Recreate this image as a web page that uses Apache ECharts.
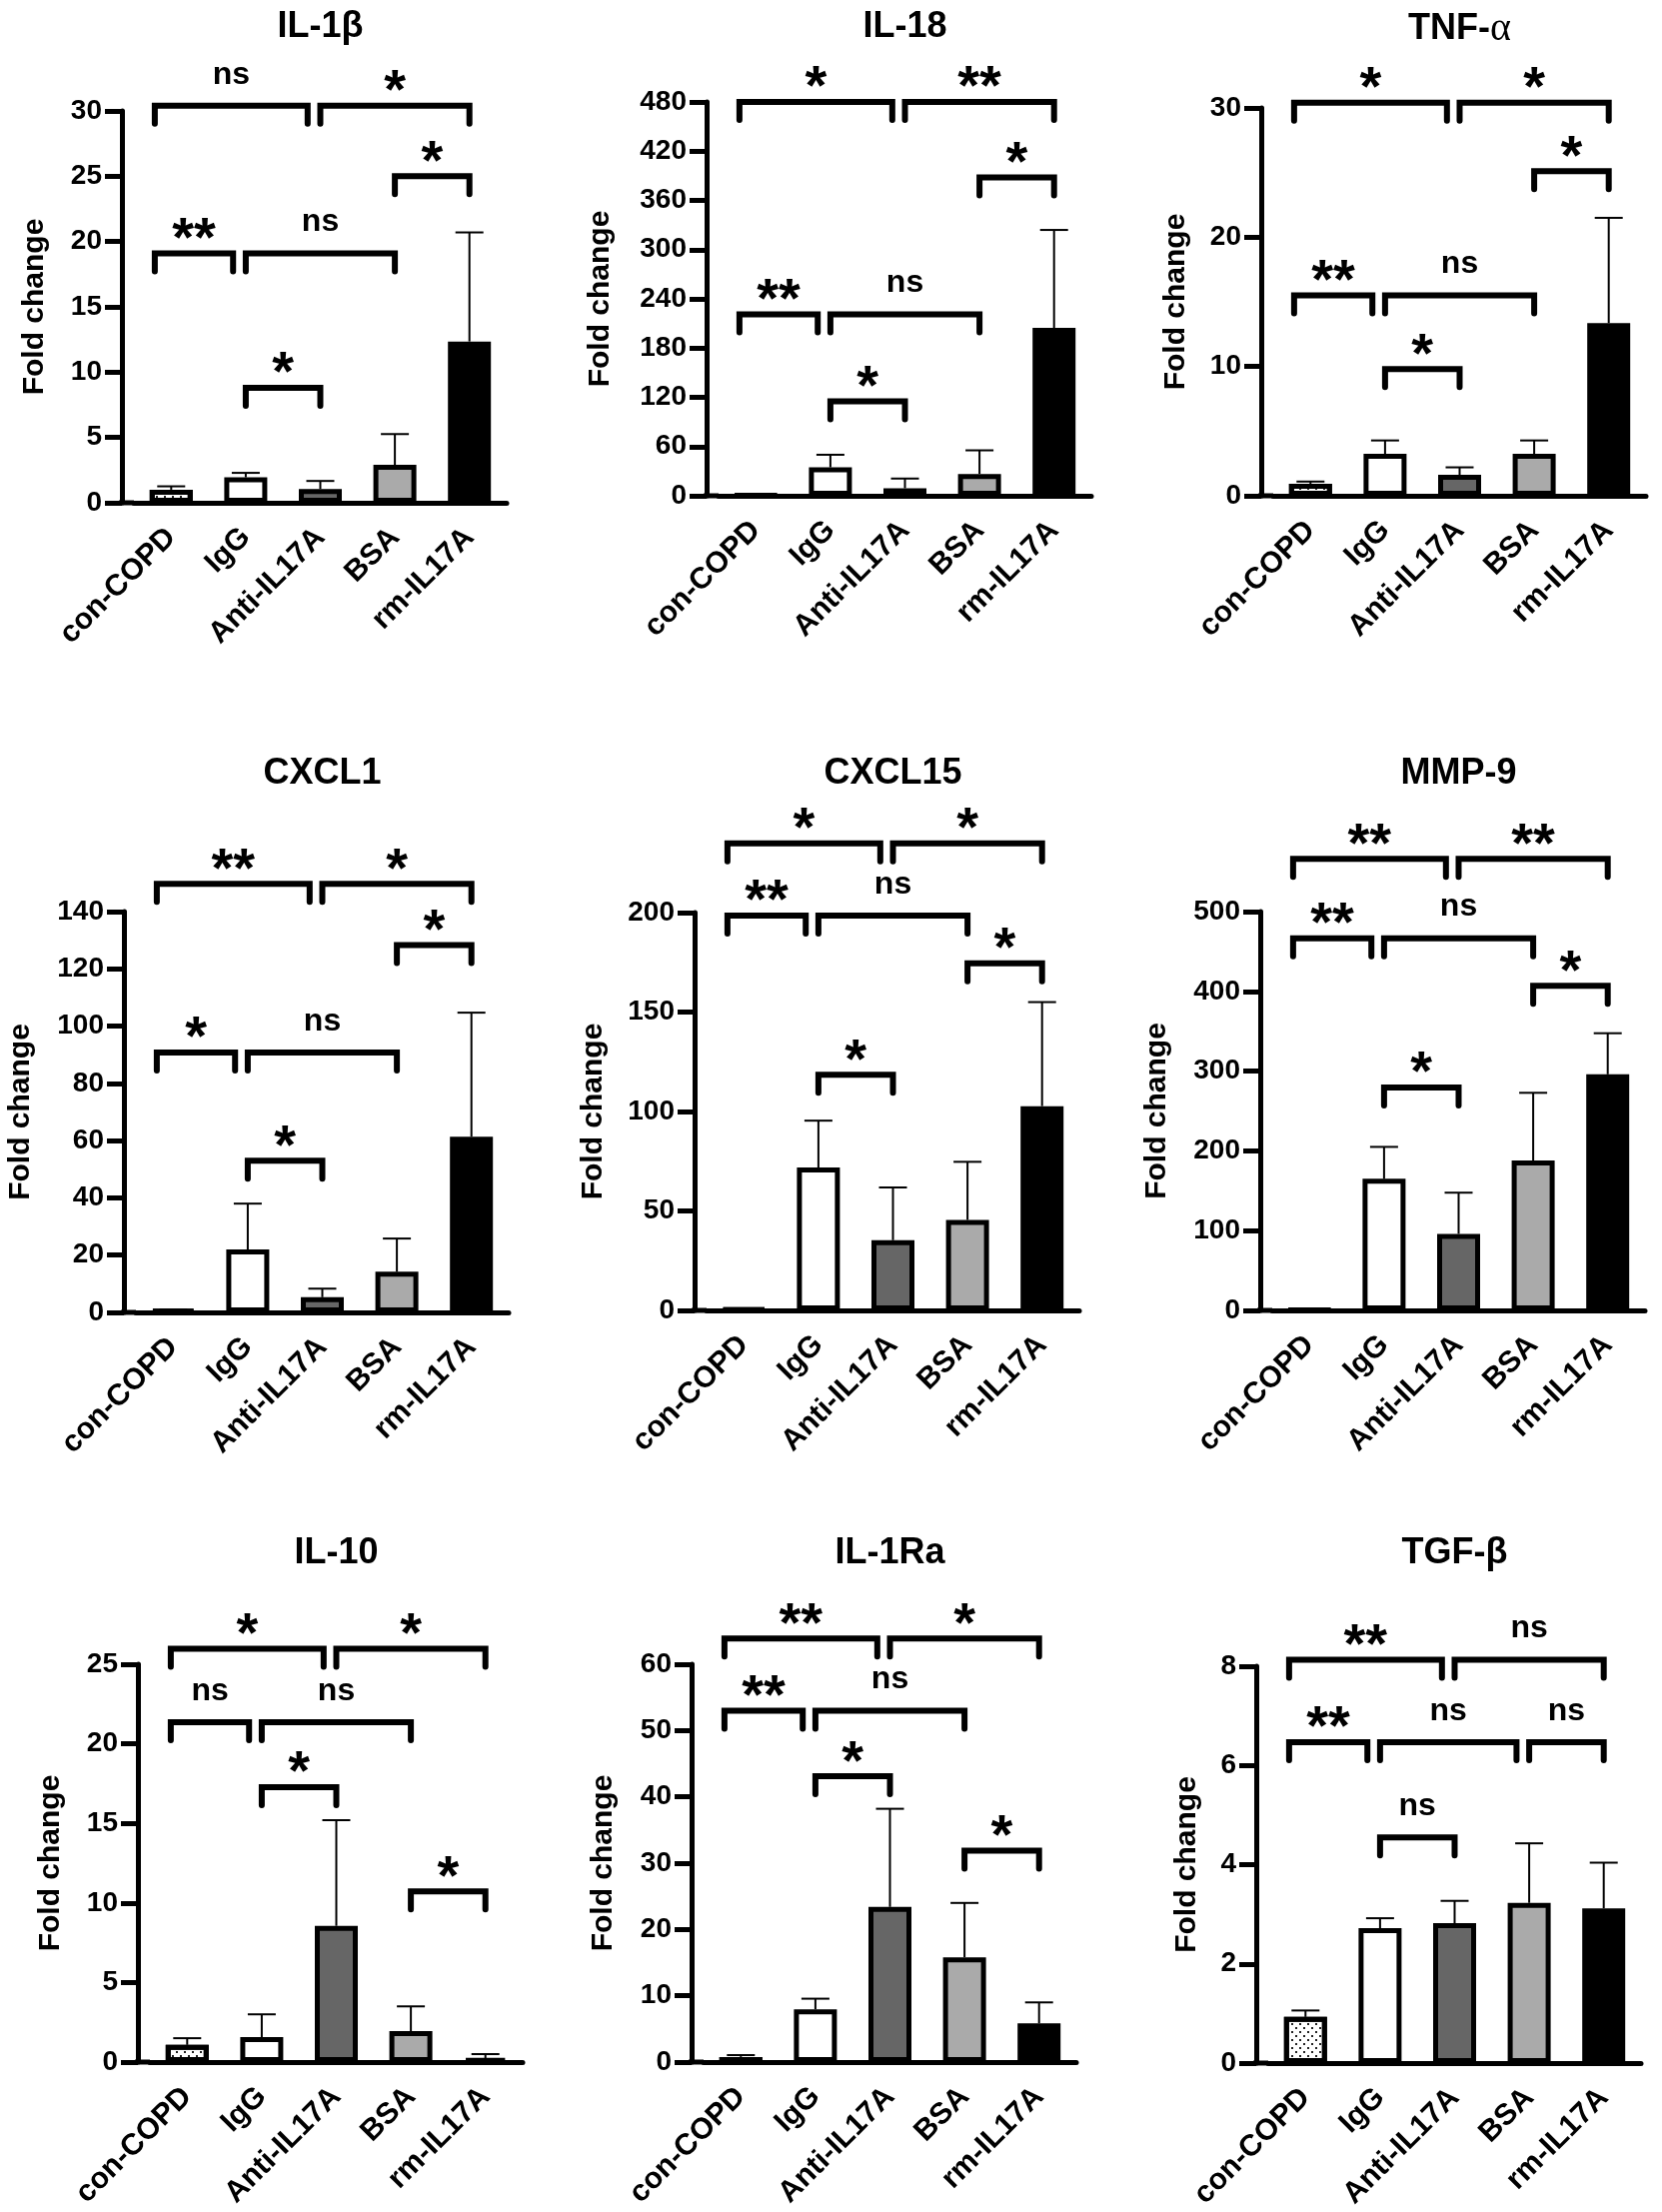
<!DOCTYPE html>
<html>
<head>
<meta charset="utf-8">
<title>Fold change</title>
<script src="https://cdn.jsdelivr.net/npm/echarts@6/dist/echarts.min.js"></script>
<style>
html, body { margin: 0; padding: 0; background: #fff; }
#main { width: 1663px; height: 2213px; }
</style>
</head>
<body>
<div id="main"></div>
<script>
// groups on the x axis
var groups = ['con-COPD', 'IgG', 'Anti-IL17A', 'BSA', 'rm-IL17A'];

// mean and upper end of error bar (mean + SD) for every panel
// significance brackets: [from group, to group, height, label]
var il1bMean = [1.0, 1.95, 1.05, 2.9, 12.35];
var il1bUpper = [1.26, 2.29, 1.67, 5.26, 20.7];
var il1bSig = [[0, 2, 30.4, 'ns'], [2, 4, 30.4, '*'], [3, 4, 25.0, '*'], [0, 1, 19.1, '**'], [1, 3, 19.1, 'ns'], [1, 2, 8.8, '*']];

var il18Mean = [1, 34.7, 9.2, 26.6, 204.7];
var il18Upper = [1.2, 50, 21, 55.4, 324];
var il18Sig = [[0, 2, 480, '*'], [2, 4, 480, '**'], [3, 4, 388, '*'], [0, 1, 221, '**'], [1, 3, 221, 'ns'], [1, 2, 115, '*']];

var tnfMean = [0.93, 3.24, 1.62, 3.24, 13.36];
var tnfUpper = [1.1, 4.28, 2.2, 4.28, 21.5];
var tnfSig = [[0, 2, 30.4, '*'], [2, 4, 30.4, '*'], [3, 4, 25.1, '*'], [0, 1, 15.5, '**'], [1, 3, 15.5, 'ns'], [1, 2, 9.8, '*']];

var cxcl1Mean = [0.8, 22, 5.3, 14.2, 61.4];
var cxcl1Upper = [1.0, 38, 8.3, 25.8, 104.7];
var cxcl1Sig = [[0, 2, 149.7, '**'], [2, 4, 149.7, '*'], [3, 4, 128.3, '*'], [0, 1, 90.8, '*'], [1, 3, 90.8, 'ns'], [1, 2, 53, '*']];

var cxcl15Mean = [0.8, 71.8, 35.3, 45.5, 102.7];
var cxcl15Upper = [1.0, 95.4, 61.8, 74.7, 155];
var cxcl15Sig = [[0, 2, 234.8, '*'], [2, 4, 234.8, '*'], [0, 1, 198.5, '**'], [1, 3, 198.5, 'ns'], [3, 4, 174.5, '*'], [1, 2, 118.5, '*']];

var mmp9Mean = [1, 165, 96, 188, 296];
var mmp9Upper = [1.2, 205, 147.6, 272.8, 347.5];
var mmp9Sig = [[0, 2, 566, '**'], [2, 4, 566, '**'], [0, 1, 466.6, '**'], [1, 3, 466.6, 'ns'], [3, 4, 407, '*'], [1, 2, 279.5, '*']];

var il10Mean = [1.08, 1.57, 8.56, 1.94, 0.23];
var il10Upper = [1.5, 3.0, 15.2, 3.5, 0.5];
var il10Sig = [[0, 2, 25.97, '*'], [2, 4, 25.97, '*'], [0, 1, 21.35, 'ns'], [1, 3, 21.35, 'ns'], [1, 2, 17.27, '*'], [3, 4, 10.73, '*']];

var il1raMean = [0.77, 7.95, 23.4, 15.8, 5.84];
var il1raUpper = [1.05, 9.56, 38.2, 24, 9.0];
var il1raSig = [[0, 2, 63.9, '**'], [2, 4, 63.9, '*'], [0, 1, 53, '**'], [1, 3, 53, 'ns'], [1, 2, 43.1, '*'], [3, 4, 31.9, '*']];

var tgfbMean = [0.93, 2.72, 2.82, 3.23, 3.12];
var tgfbUpper = [1.06, 2.92, 3.27, 4.43, 4.04];
var tgfbSig = [[0, 2, 8.13, '**'], [2, 4, 8.13, 'ns'], [0, 1, 6.47, '**'], [1, 3, 6.47, 'ns'], [3, 4, 6.47, 'ns'], [1, 2, 4.55, 'ns']];

var panels = [
    { title: 'IL-1β', mean: il1bMean, upper: il1bUpper, sig: il1bSig, max: 30, step: 5 },
    { title: 'IL-18', mean: il18Mean, upper: il18Upper, sig: il18Sig, max: 480, step: 60 },
    { title: 'TNF-{a|α}', mean: tnfMean, upper: tnfUpper, sig: tnfSig, max: 30, step: 10 },
    { title: 'CXCL1', mean: cxcl1Mean, upper: cxcl1Upper, sig: cxcl1Sig, max: 140, step: 20 },
    { title: 'CXCL15', mean: cxcl15Mean, upper: cxcl15Upper, sig: cxcl15Sig, max: 200, step: 50 },
    { title: 'MMP-9', mean: mmp9Mean, upper: mmp9Upper, sig: mmp9Sig, max: 500, step: 100 },
    { title: 'IL-10', mean: il10Mean, upper: il10Upper, sig: il10Sig, max: 25, step: 5 },
    { title: 'IL-1Ra', mean: il1raMean, upper: il1raUpper, sig: il1raSig, max: 60, step: 10 },
    { title: 'TGF-β', mean: tgfbMean, upper: tgfbUpper, sig: tgfbSig, max: 8, step: 2 }
];

// plot boxes in px: [left of first band, top, height, name gap, title y]
var boxes = [
    [134, 111, 392, 72, 9], [719, 102, 394, 91, 9], [1274, 108, 388, 70, 9],
    [136, 912, 401, 88, 756], [707, 913, 398, 86, 756], [1273, 912, 399, 88, 756],
    [150, 1665, 398, 72, 1536], [704, 1665, 398, 73, 1536], [1269, 1667, 397, 54, 1536]
];
var plotWidth = 373;
var axisGap = 12;

var font = '"Liberation Sans", Arial, Helvetica, sans-serif';
var fills = ['#ffffff', '#ffffff', '#666666', '#aaaaaa', '#000000'];
var dots = {
    symbol: 'rect',
    symbolSize: 1,
    color: '#222222',
    dashArrayX: [[2, 6], [0, 4, 2, 2]],
    dashArrayY: [2, 2],
    rotation: 0
};

function renderError(params, api) {
    var p0 = api.coord([api.value(0), api.value(1)]);
    var p1 = api.coord([api.value(0), api.value(2)]);
    var cap = 14;
    return {
        type: 'group',
        children: [
            { type: 'line', shape: { x1: p0[0], y1: p0[1], x2: p1[0], y2: p1[1] }, style: { stroke: '#000', lineWidth: 2 } },
            { type: 'line', shape: { x1: p1[0] - cap, y1: p1[1], x2: p1[0] + cap, y2: p1[1] }, style: { stroke: '#000', lineWidth: 2 } }
        ]
    };
}

function bracketRender(list) {
    return function (params, api) {
        var b = list[params.dataIndex];
        var band = api.size([1, 0])[0];
        var a = api.coord([b[0], b[2]]);
        var c = api.coord([b[1], b[2]]);
        // GraphPad leaves a little space where two brackets meet
        var next = list.some(function (o) { return o !== b && o[2] === b[2] && o[0] === b[1]; });
        var x1 = a[0] + (b[0] === 0 ? -0.22 * band : 0);
        var x2 = c[0] - (next ? 0.17 * band : 0);
        var y = a[1];
        var leg = 18;
        var star = b[3].indexOf('*') >= 0;
        return {
            type: 'group',
            children: [
                {
                    type: 'polyline',
                    shape: { points: [[x1, y + leg], [x1, y], [x2, y], [x2, y + leg]] },
                    style: { stroke: '#000', lineWidth: 6, fill: null, lineCap: 'round', lineJoin: 'miter' }
                },
                {
                    type: 'text',
                    style: {
                        text: b[3],
                        x: (x1 + x2) / 2,
                        y: star ? y - 13 : y - 31,
                        align: 'center',
                        verticalAlign: 'middle',
                        fontSize: star ? 56 : 32,
                        fontWeight: 'bold',
                        fontFamily: font,
                        fill: '#000'
                    }
                }
            ]
        };
    };
}

var option = {
    animation: false,
    backgroundColor: '#fff',
    title: [],
    grid: [],
    xAxis: [],
    yAxis: [],
    series: []
};

panels.forEach(function (p, i) {
    var box = boxes[i];
    option.title.push({
        text: p.title,
        left: box[0] + plotWidth / 2,
        top: box[4],
        textAlign: 'center',
        padding: 0,
        textStyle: {
            fontSize: 36,
            fontWeight: 'bold',
            fontFamily: font,
            color: '#000',
            rich: { a: { fontSize: 40, fontWeight: 'normal', fontFamily: '"Liberation Serif", "DejaVu Serif", serif', color: '#000' } }
        }
    });
    option.grid.push({ left: box[0], top: box[1], width: plotWidth, height: box[2] });
    option.xAxis.push({
        type: 'category',
        gridIndex: i,
        data: groups,
        axisLine: {
            lineStyle: { color: '#000', width: 5 },
            symbol: ['rect', 'none'],
            symbolSize: [5, axisGap + 3],
            symbolOffset: [-(axisGap + 3) / 2, 0]
        },
        axisTick: { alignWithLabel: true, length: 15, lineStyle: { color: '#000', width: 5 } },
        axisLabel: {
            interval: 0,
            rotate: 45,
            margin: 30,
            color: '#000',
            fontSize: 30,
            fontWeight: 'bold',
            fontFamily: font
        },
        splitLine: { show: false }
    });
    option.yAxis.push({
        type: 'value',
        gridIndex: i,
        min: 0,
        max: p.max,
        interval: p.step,
        offset: axisGap,
        name: 'Fold change',
        nameLocation: 'middle',
        nameGap: box[3],
        nameTextStyle: { fontSize: 30, fontWeight: 'bold', fontFamily: font, color: '#000' },
        axisLine: { show: true, onZero: false, lineStyle: { color: '#000', width: 5 } },
        axisTick: { show: true, length: 17, lineStyle: { color: '#000', width: 5 } },
        axisLabel: { margin: 20, color: '#000', fontSize: 28, fontWeight: 'bold', fontFamily: font },
        splitLine: { show: false }
    });
    option.series.push({
        type: 'bar',
        xAxisIndex: i,
        yAxisIndex: i,
        barWidth: 43,
        silent: true,
        itemStyle: { borderColor: '#000', borderWidth: 5 },
        data: p.mean.map(function (v, k) {
            var style = { color: fills[k] };
            if (k === 0) style.decal = dots;
            return { value: v, itemStyle: style };
        })
    });
    option.series.push({
        type: 'custom',
        xAxisIndex: i,
        yAxisIndex: i,
        silent: true,
        renderItem: renderError,
        encode: { x: 0, y: [1, 2] },
        data: p.mean.map(function (v, k) { return [k, v, p.upper[k]]; })
    });
    option.series.push({
        type: 'custom',
        xAxisIndex: i,
        yAxisIndex: i,
        silent: true,
        clip: false,
        renderItem: bracketRender(p.sig),
        encode: { x: 0, y: 1 },
        data: p.sig.map(function (b) { return [b[0], Math.min(b[2], p.max)]; })
    });
});

var myChart = echarts.init(document.getElementById('main'));
myChart.setOption(option);
</script>
</body>
</html>
